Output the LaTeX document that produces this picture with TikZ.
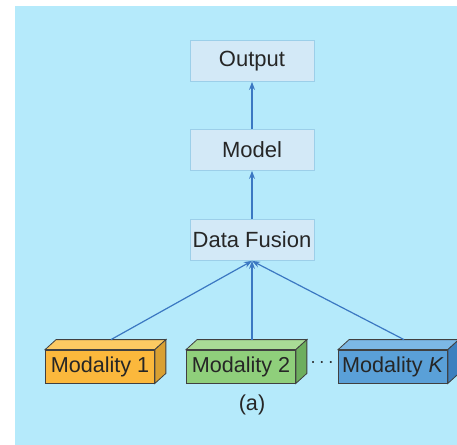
\documentclass[tikz,border=0pt]{standalone}
\usepackage{fontspec}
\setmainfont{Liberation Sans}
\usetikzlibrary{arrows.meta}
\definecolor{bgblue}{HTML}{B5EAFB}
\definecolor{boxfill}{HTML}{D3E9F7}
\definecolor{boxline}{HTML}{9CCFE9}
\definecolor{arrowblue}{HTML}{3B78C2}
\definecolor{textgray}{HTML}{262626}
\definecolor{modaone}{HTML}{FBB83C}
\definecolor{modaonetop}{HTML}{FCCA62}
\definecolor{modaoneside}{HTML}{D9A032}
\definecolor{modatwo}{HTML}{8FCF7B}
\definecolor{modatwotop}{HTML}{A9DC96}
\definecolor{modatwoside}{HTML}{6DAE5E}
\definecolor{modak}{HTML}{5AA0D8}
\definecolor{modaktop}{HTML}{7CB8E6}
\definecolor{modakside}{HTML}{3C80BF}
\tikzset{
  stage/.style={draw=boxline, fill=boxfill, text=textgray, minimum width=62pt, minimum height=20.5pt, inner sep=1pt, font=\fontsize{11}{13}\selectfont},
  modal/.style={draw=black!75, fill=#1, text=textgray, minimum width=54.5pt, minimum height=16.5pt, inner sep=1pt, font=\fontsize{10.8}{13}\selectfont},
  flow/.style={draw=arrowblue, line width=0.6pt, -{Stealth[length=4pt,width=3pt]}}
}
% cuboid faces behind a modality node: #1 node, #2 top colour, #3 side colour
\newcommand{\cuboid}[3]{
  \draw[black!75, fill=#2] (#1.north west) -- ++(5.5pt,5pt) -- ([shift={(5.5pt,5pt)}]#1.north east) -- (#1.north east) -- cycle;
  \draw[black!75, fill=#3] (#1.north east) -- ++(5.5pt,5pt) -- ([shift={(5.5pt,5pt)}]#1.south east) -- (#1.south east) -- cycle;
}
\begin{document}
\begin{tikzpicture}[x=0.5pt,y=-0.5pt]
    \useasboundingbox (0,0) rectangle (457,445);
    \fill[bgblue] (15,6) rectangle (457,445);

    \node[stage] (output) at (252,61) {Output};
    \node[stage] (model) at (252,150) {Model};
    \node[stage] (fusion) at (252,240) {Data Fusion};

    \node[modal=modaone] (mod1) at (100,366.5) {Modality 1};
    \cuboid{mod1}{modaonetop}{modaoneside}
    \node[modal=modatwo] (mod2) at (241,366.5) {Modality 2};
    \cuboid{mod2}{modatwotop}{modatwoside}
    \node[modal=modak] (modk) at (393,366.5) {Modality \textit{K}};
    \cuboid{modk}{modaktop}{modakside}
    \node[text=textgray] (dots) at (322,363) {$\cdots$};
    \node[text=textgray, font=\fontsize{10.8}{13}\selectfont] (caption) at (252,405) {(a)};

    \coordinate (top1) at ([shift={(5.5pt,5pt)}]mod1.north);
    \coordinate (top2) at ([shift={(5.5pt,5pt)}]mod2.north);
    \coordinate (topk) at ([shift={(5.5pt,5pt)}]modk.north);
    \draw[flow] (top1) -- (fusion.south);
    \draw[flow] (top2) -- (fusion.south);
    \draw[flow] (topk) -- (fusion.south);
    \draw[flow] (fusion) -- (model);
    \draw[flow] (model) -- (output);
\end{tikzpicture}
\end{document}
